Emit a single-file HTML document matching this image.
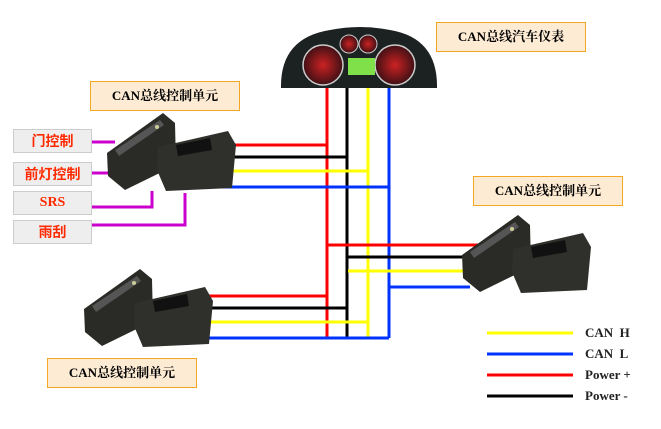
<!DOCTYPE html>
<html><head><meta charset="utf-8"><style>
body{margin:0;background:#fff;width:661px;height:429px;overflow:hidden;font-family:"Liberation Serif","Noto Serif CJK SC",serif}
.lb{position:absolute;background:#fdebd3;border:1px solid #f5a623;font-weight:bold;font-size:13px;text-align:center;color:#000;box-sizing:border-box}
.gb{position:absolute;left:13px;width:79px;height:24px;background:#eeeeee;border:1px solid #ccc;box-sizing:border-box;color:#ff2a00;font-weight:bold;font-size:14px;text-align:center;line-height:22px;font-family:"Liberation Sans","Noto Sans CJK SC",sans-serif}
.lg{position:absolute;left:585px;font-size:13px;font-weight:bold;color:#222}
</style></head><body>
<svg width="661" height="429" style="position:absolute;left:0;top:0">
<defs>
<g id="mod">
<polygon points="107,153 163,113 175,123 176,165 125,190 108,176" fill="#2a2a26"/>
<polygon points="115,150 160,120 164,125 119,156" fill="#555"/>
<polygon points="158,147 228,131 236,145 232,188 166,191 157,170" fill="#2f2f2b"/>
<polygon points="176,145 210,138 212,150 178,156" fill="#111"/>
<circle cx="157" cy="127" r="2" fill="#cc9"/>
</g>
<radialGradient id="gg" cx="50%" cy="50%" r="50%"><stop offset="0" stop-color="#c22"/><stop offset="1" stop-color="#401015"/></radialGradient>
</defs>
<g stroke-width="3" fill="none">
<path d="M327 88V338" stroke="#ff0000"/>
<path d="M347 88V338" stroke="#000"/>
<path d="M368 88V338" stroke="#ffff00"/>
<path d="M389 88V338" stroke="#0033ff"/>
<path d="M235 145H327M327 245H482M182 296H327" stroke="#ff0000"/>
<path d="M232 157H347M347 257H470M185 308H347" stroke="#000"/>
<path d="M220 171H368M348 271H465M177 322H368" stroke="#ffff00"/>
<path d="M214 187H389M389 287H470M170 338H389" stroke="#0033ff"/>
<path d="M92 142H115M92 173H115M92 207H152V191M92 225H185V193" stroke="#cc00cc"/>
<path d="M487 333H573" stroke="#ffff00"/><path d="M487 354H573" stroke="#0033ff"/>
<path d="M487 375H573" stroke="#ff0000"/><path d="M487 396H573" stroke="#000"/>
</g>
<use href="#mod"/>
<use href="#mod" transform="translate(355,102)"/>
<use href="#mod" transform="translate(-23,156)"/>
<path d="M281 88 Q280 38 330 30 Q360 24 390 30 Q438 38 437 88 Z" fill="#1c2222"/>
<circle cx="323" cy="65" r="20" fill="url(#gg)" stroke="#ccc" stroke-width="1.5"/>
<circle cx="395" cy="65" r="20" fill="url(#gg)" stroke="#ccc" stroke-width="1.5"/>
<circle cx="349" cy="44" r="9" fill="url(#gg)" stroke="#ccc"/>
<circle cx="368" cy="44" r="9" fill="url(#gg)" stroke="#ccc"/>
<rect x="348" y="58" width="27" height="17" fill="#7fe04a"/>
</svg>
<div class="lb" style="left:436px;top:22px;width:150px;height:30px;line-height:28px">CAN总线汽车仪表</div>
<div class="lb" style="left:90px;top:81px;width:150px;height:30px;line-height:28px">CAN总线控制单元</div>
<div class="lb" style="left:473px;top:176px;width:150px;height:30px;line-height:28px">CAN总线控制单元</div>
<div class="lb" style="left:47px;top:358px;width:150px;height:30px;line-height:28px">CAN总线控制单元</div>
<div class="gb" style="top:129px">门控制</div>
<div class="gb" style="top:162px">前灯控制</div>
<div class="gb" style="top:191px;font-family:'Liberation Serif',serif">SRS</div>
<div class="gb" style="top:220px">雨刮</div>
<div class="lg" style="top:325px">CAN&nbsp; H</div>
<div class="lg" style="top:346px">CAN&nbsp; L</div>
<div class="lg" style="top:367px">Power +</div>
<div class="lg" style="top:388px">Power -</div>
</body></html>
